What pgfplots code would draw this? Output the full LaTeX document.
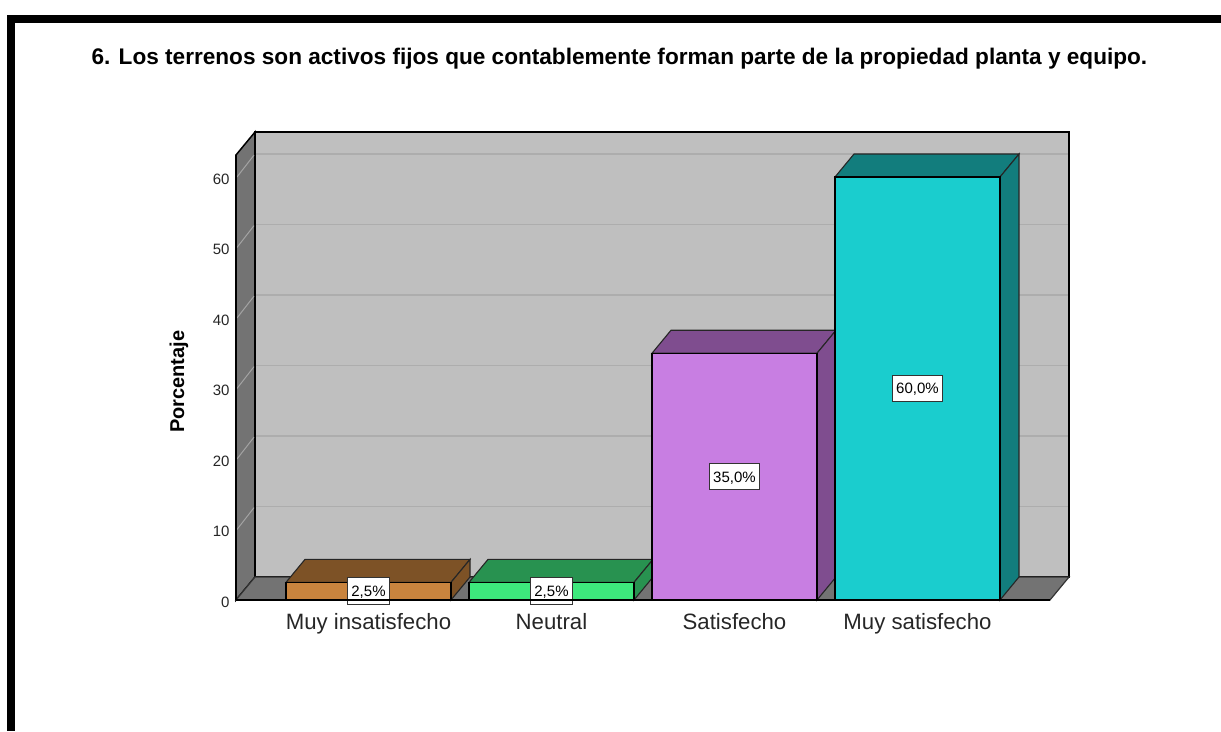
\documentclass[border=0pt]{standalone}
\usepackage{fontspec}
\setmainfont{Liberation Sans}
\usepackage{pgfplots}
\pgfplotsset{compat=1.18}
\definecolor{wallback}{HTML}{BFBFBF}
\definecolor{wallside}{HTML}{737373}
\definecolor{gridb}{HTML}{ADADAD}
\definecolor{grids}{HTML}{A3A3A3}
\definecolor{brF}{HTML}{C9843E}\definecolor{brT}{HTML}{7D5226}
\definecolor{grF}{HTML}{3DE87C}\definecolor{grT}{HTML}{289250}
\definecolor{puF}{HTML}{C87EE2}\definecolor{puT}{HTML}{7F4D8F}
\definecolor{teF}{HTML}{1ACDCE}\definecolor{teT}{HTML}{127D7D}
\newcommand{\fs}[1]{\fontsize{#1}{#1}\selectfont}
\tikzset{vlabel/.style={fill=white, draw=black!80, line width=0.9pt, font=\fs{15}, inner xsep=3.6pt, inner ysep=0pt, minimum height=26.5pt, text height=11pt, text depth=0pt}}
\begin{document}
\begin{tikzpicture}
\begin{axis}[
  scale only axis, width=814pt, height=445pt,
  xmin=236, xmax=1050, ymin=0, ymax=63.12,
  clip=false,
  axis lines*=left,
  axis line style={black, line width=1.6pt, -},
  axis on top,
  xtick={368.5,551.5,734.5,917.5},
  xticklabels={Muy insatisfecho,Neutral,Satisfecho,Muy satisfecho},
  ytick={0,10,20,30,40,50,60},
  major tick length=0pt,
  /pgf/number format/assume math mode=true,
  xticklabel style={font=\fs{22.2}, text=black!85, yshift=-10pt},
  yticklabel style={font=\fs{15}, text=black!85, xshift=-3pt, yshift=-2pt},
  title={\fs{22.6}\bfseries 6. Los terrenos son activos fijos que contablemente forman parte de la propiedad planta y equipo.},
  title style={at={(rel axis cs:0.471,1.2225)}, anchor=center, inner sep=0pt, yshift=-9pt},
  ylabel={\fs{20}\bfseries Porcentaje},
  ylabel style={at={(rel axis cs:-0.07,0.488)}, anchor=center, inner sep=0pt, rotate=0, xshift=1pt},
]
% page extent and frame
\path (axis cs:0,85.106) rectangle (axis cs:1221,-18.582);
\fill[black] (axis cs:7,83.0) rectangle (axis cs:1221,81.84);
\fill[black] (axis cs:7,83.0) rectangle (axis cs:15,-18.582);

% walls
\addplot[fill=wallback, draw=black, line width=1.5pt] coordinates {(255,3.26)(1069,3.26)(1069,66.38)(255,66.38)} --cycle;
\addplot[fill=wallside, draw=black, line width=1.5pt] coordinates {(236,0)(255,3.26)(255,66.38)(236,63.12)} --cycle;
\addplot[fill=wallside, draw=black!80, line width=1.2pt] coordinates {(236,0)(1050,0)(1069,3.26)(255,3.26)} --cycle;

% gridlines
\pgfplotsinvokeforeach{10,20,30,40,50,60}{
  \addplot[draw=gridb, line width=1.3pt] coordinates {(256,#1+3.26)(1068,#1+3.26)};
  \addplot[draw=grids, line width=1pt] coordinates {(237,#1)(254,#1+3.1)};
}

% bar 1
\addplot[fill=brT, draw=black!85, line width=1.1pt] coordinates {(286,2.5)(451,2.5)(470,5.76)(305,5.76)} --cycle;
\addplot[fill=brT, draw=black!85, line width=1.1pt] coordinates {(451,0)(470,3.26)(470,5.76)(451,2.5)} --cycle;
\addplot[ybar, bar width=165, bar shift=0pt, fill=brF, draw=black, line width=1.1pt] coordinates {(368.5,2.5)};
% bar 2
\addplot[fill=grT, draw=black!85, line width=1.1pt] coordinates {(469,2.5)(634,2.5)(653,5.76)(488,5.76)} --cycle;
\addplot[fill=grT, draw=black!85, line width=1.1pt] coordinates {(634,0)(653,3.26)(653,5.76)(634,2.5)} --cycle;
\addplot[ybar, bar width=165, bar shift=0pt, fill=grF, draw=black, line width=1.1pt] coordinates {(551.5,2.5)};
% bar 3
\addplot[fill=puT, draw=black!85, line width=1.1pt] coordinates {(652,35)(817,35)(836,38.26)(671,38.26)} --cycle;
\addplot[fill=puT, draw=black!85, line width=1.1pt] coordinates {(817,0)(836,3.26)(836,38.26)(817,35)} --cycle;
\addplot[ybar, bar width=165, bar shift=0pt, fill=puF, draw=black, line width=1.1pt] coordinates {(734.5,35)};
% bar 4
\addplot[fill=teT, draw=black!85, line width=1.1pt] coordinates {(835,60)(1000,60)(1019,63.26)(854,63.26)} --cycle;
\addplot[fill=teT, draw=black!85, line width=1.1pt] coordinates {(1000,0)(1019,3.26)(1019,63.26)(1000,60)} --cycle;
\addplot[ybar, bar width=165, bar shift=0pt, fill=teF, draw=black, line width=1.1pt] coordinates {(917.5,60)};

% value labels
\node[vlabel] at (axis cs:368.5,1.25) {2,5\%};
\node[vlabel] at (axis cs:551.5,1.25) {2,5\%};
\node[vlabel] at (axis cs:734.5,17.5) {35,0\%};
\node[vlabel] at (axis cs:917.5,30) {60,0\%};
\end{axis}
\end{tikzpicture}
\end{document}
